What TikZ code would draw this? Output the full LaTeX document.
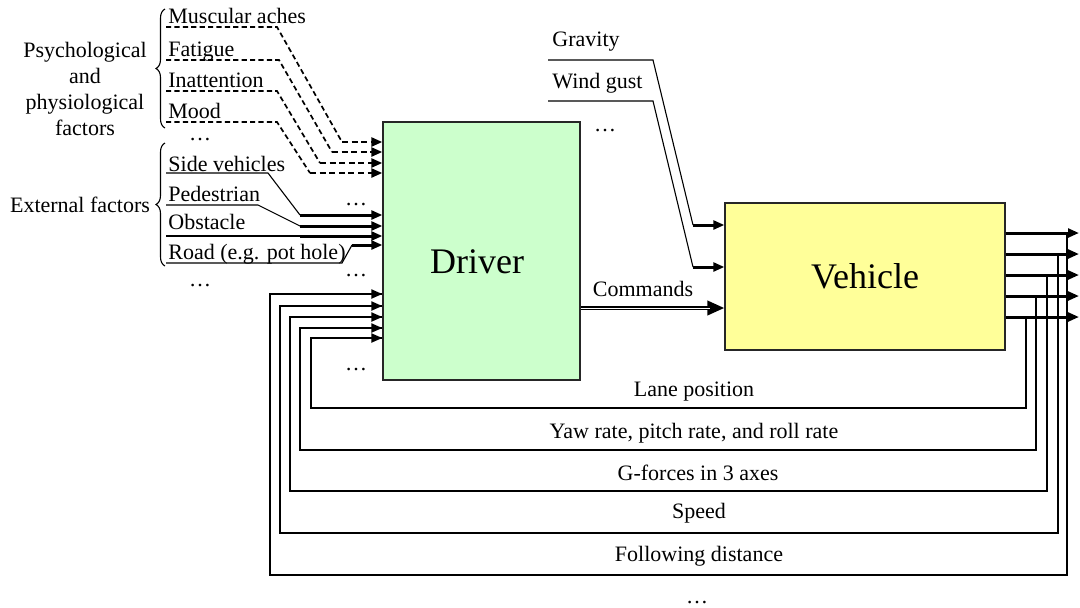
\documentclass[tikz,border=0pt]{standalone}
\usepackage{fontspec}
\setmainfont{Liberation Serif}
\usetikzlibrary{arrows.meta,decorations.pathreplacing}
\definecolor{drvgreen}{RGB}{204,255,204}
\definecolor{vehyellow}{RGB}{255,255,153}
\begin{document}
\begin{tikzpicture}[x=0.5pt,y=-0.5pt,
  font=\fontsize{11}{13}\selectfont,
  every node/.style={inner sep=0pt},
  tip/.style={-{Triangle[length=5.5pt,width=4.4pt]}},
  thinln/.style={line width=0.55pt},
  thickln/.style={line width=1.5pt},
  dsh/.style={line width=0.85pt,dash pattern=on 2.6pt off 1.6pt},
  dshthick/.style={line width=1.4pt,dash pattern=on 3pt off 1.8pt},
  fbln/.style={line width=0.75pt},
  item/.style={anchor=base west},
  box/.style={draw=black!85,line width=0.6pt},
  brc/.style={decorate,decoration={brace,amplitude=4.5pt},line width=0.55pt}]
\useasboundingbox (0,0) rectangle (1080,607);

% blocks
\node[box,fill=drvgreen,minimum width=98.5pt,minimum height=129pt] (driver) at (481.5,251) {};
\node[font=\fontsize{18}{20}\selectfont] (drvtxt) at (477,262) {Driver};
\node[box,fill=vehyellow,minimum width=140pt,minimum height=73.5pt,font=\fontsize{18}{20}\selectfont] (vehicle) at (865,276.5) {Vehicle};

% group labels and braces
\node[align=center] (psy) at (85,89) {Psychological\\and\\physiological\\factors};
\node (ext) at (80,205) {External factors};
\draw[brc] (165,128) -- (165,9);
\draw[brc] (165,266) -- (165,143);

% psychological items (dashed)
\node[item] (ma) at (168,23) {Muscular aches};
\node[item] (fa) at (168,56) {Fatigue};
\node[item] (in) at (168,87) {Inattention};
\node[item] (mo) at (168,118) {Mood};
\node (d1) at (200,140) {…};

\draw[dsh] (166,27) -- (277,27) -- (342,142);
\draw[dshthick,tip] (342,142) -- (driver.west |- 0,142);
\draw[dsh] (166,60) -- (279,60) -- (332,152);
\draw[dshthick,tip] (332,152) -- (driver.west |- 0,152);
\draw[dsh] (166,91) -- (277,91) -- (320,163);
\draw[dshthick,tip] (320,163) -- (driver.west |- 0,163);
\draw[dsh] (166,122) -- (277,122) -- (310,173);
\draw[dshthick,tip] (310,173) -- (driver.west |- 0,173);

% external items
\node[item] (sv) at (168,171) {Side vehicles};
\node[item] (pe) at (168,201) {Pedestrian};
\node[item] (ob) at (168,229) {Obstacle};
\node[item] (ro) at (168,259) {Road (e.g. pot hole)};
\node (d2) at (200,285) {…};
\node (d3) at (356,204) {…};
\node (d4) at (356,275) {…};
\node (d5) at (356,369) {…};

\draw[thinln] (166,173) -- (268,173) -- (300,215);
\draw[thickln,tip] (300,215) -- (driver.west |- 0,215);
\draw[thinln] (166,205) -- (258,205) -- (300,226);
\draw[thickln,tip] (300,226) -- (driver.west |- 0,226);
\draw[thinln] (166,236) -- (300,236);
\draw[thickln,tip] (300,236) -- (driver.west |- 0,236);
\draw[thinln] (166,263) -- (342,263) -- (352,245);
\draw[thickln,tip] (352,245) -- (driver.west |- 0,245);

% disturbances
\node[item] (gr) at (552,46) {Gravity};
\node[item] (wg) at (552,88) {Wind gust};
\node (d6) at (605,131) {…};
\draw[thinln] (548,60) -- (653,60) -- (693,225);
\draw[thickln,tip] (693,225) -- (vehicle.west |- 0,225);
\draw[thinln] (548,101) -- (653,101) -- (693,267);
\draw[thickln,tip] (693,267) -- (vehicle.west |- 0,267);

% commands
\node (cmd) at (643,289) {Commands};
\draw[line width=1.8pt,-{Triangle[length=8.5pt,width=7pt]}] (driver.east |- 0,308) -- (vehicle.west |- 0,308);
\draw[white,line width=0.45pt] (driver.east |- 0,308) -- (710,308);

% outputs
\coordinate (o1) at (1079,233);
\coordinate (o2) at (1079,254);
\coordinate (o3) at (1079,275);
\coordinate (o4) at (1079,296);
\coordinate (o5) at (1079,317);
\draw[fbln] (1067,233) |- (270,575) |- (driver.west |- 0,294);
\draw[fbln] (1058,254) |- (280,533) |- (driver.west |- 0,306);
\draw[fbln] (1047,275) |- (290,491) |- (driver.west |- 0,317);
\draw[fbln] (1036,296) |- (300,450) |- (driver.west |- 0,328);
\draw[fbln] (1026,317) |- (311,408) |- (driver.west |- 0,338);
\foreach \yy in {294,306,317,328,338}
  \draw[line width=1.2pt,tip] (330,\yy) -- (driver.west |- 0,\yy);
\draw[thickln,tip] (vehicle.east |- o1) -- (o1);
\draw[thickln,tip] (vehicle.east |- o2) -- (o2);
\draw[thickln,tip] (vehicle.east |- o3) -- (o3);
\draw[thickln,tip] (vehicle.east |- o4) -- (o4);
\draw[thickln,tip] (vehicle.east |- o5) -- (o5);

% feedback labels
\node (l1) at (694,392) {Lane position};
\node (l2) at (694,433) {Yaw rate, pitch rate, and roll rate};
\node (l3) at (698,473) {G-forces in 3 axes};
\node (l4) at (699,513) {Speed};
\node (l5) at (699,556) {Following distance};
\node (d7) at (697,602) {…};
\end{tikzpicture}
\end{document}
